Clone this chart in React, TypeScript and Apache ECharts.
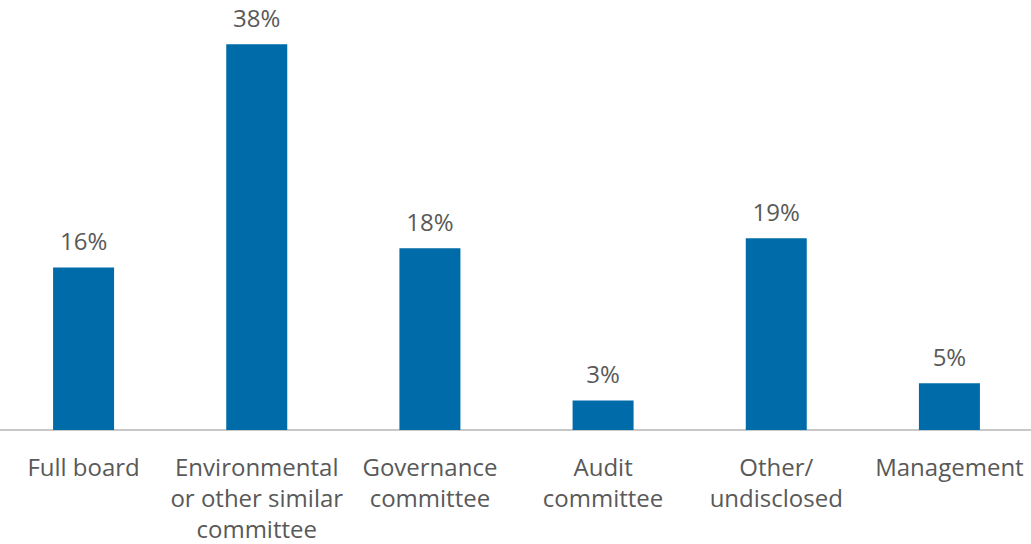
import React, { useEffect, useRef } from "react";
import * as echarts from "echarts";

const categories = [
  "Full board",
  "Environmental\nor other similar\ncommittee",
  "Governance\ncommittee",
  "Audit\ncommittee",
  "Other/\nundisclosed",
  "Management",
];
const values = [16.0, 38.0, 17.9, 2.9, 18.9, 4.6];

export default function App() {
  const ref = useRef<HTMLDivElement>(null);
  useEffect(() => {
    if (!ref.current) return;
    const chart = echarts.init(ref.current, null, { renderer: "svg" });
    chart.setOption({
      animation: false,
      grid: { left: 0, right: 0, top: 23, bottom: 112, containLabel: false },
      xAxis: {
        type: "category",
        data: categories,
        axisLine: { show: true, lineStyle: { color: "#c8c8c8", width: 2 } },
        axisTick: { show: false },
        axisLabel: {
          interval: 0,
          margin: 21,
          color: "#595959",
          fontSize: 24,
          lineHeight: 31,
          fontFamily: "Open Sans",
        },
      },
      yAxis: { type: "value", min: 0, max: 40.1, show: false, splitLine: { show: false } },
      series: [
        {
          type: "bar",
          data: values,
          barWidth: 61,
          itemStyle: { color: "#006BA9" },
          label: {
            show: true,
            position: "top",
            distance: 15,
            color: "#595959",
            fontSize: 24,
            fontFamily: "Open Sans",
            formatter: (p: any) => Math.round(p.value) + "%",
          },
        },
      ],
    });
    return () => chart.dispose();
  }, []);
  return (
    <div
      ref={ref}
      style={{ position: "absolute", left: -3, top: 0, width: 1039, height: 544 }}
    />
  );
}
